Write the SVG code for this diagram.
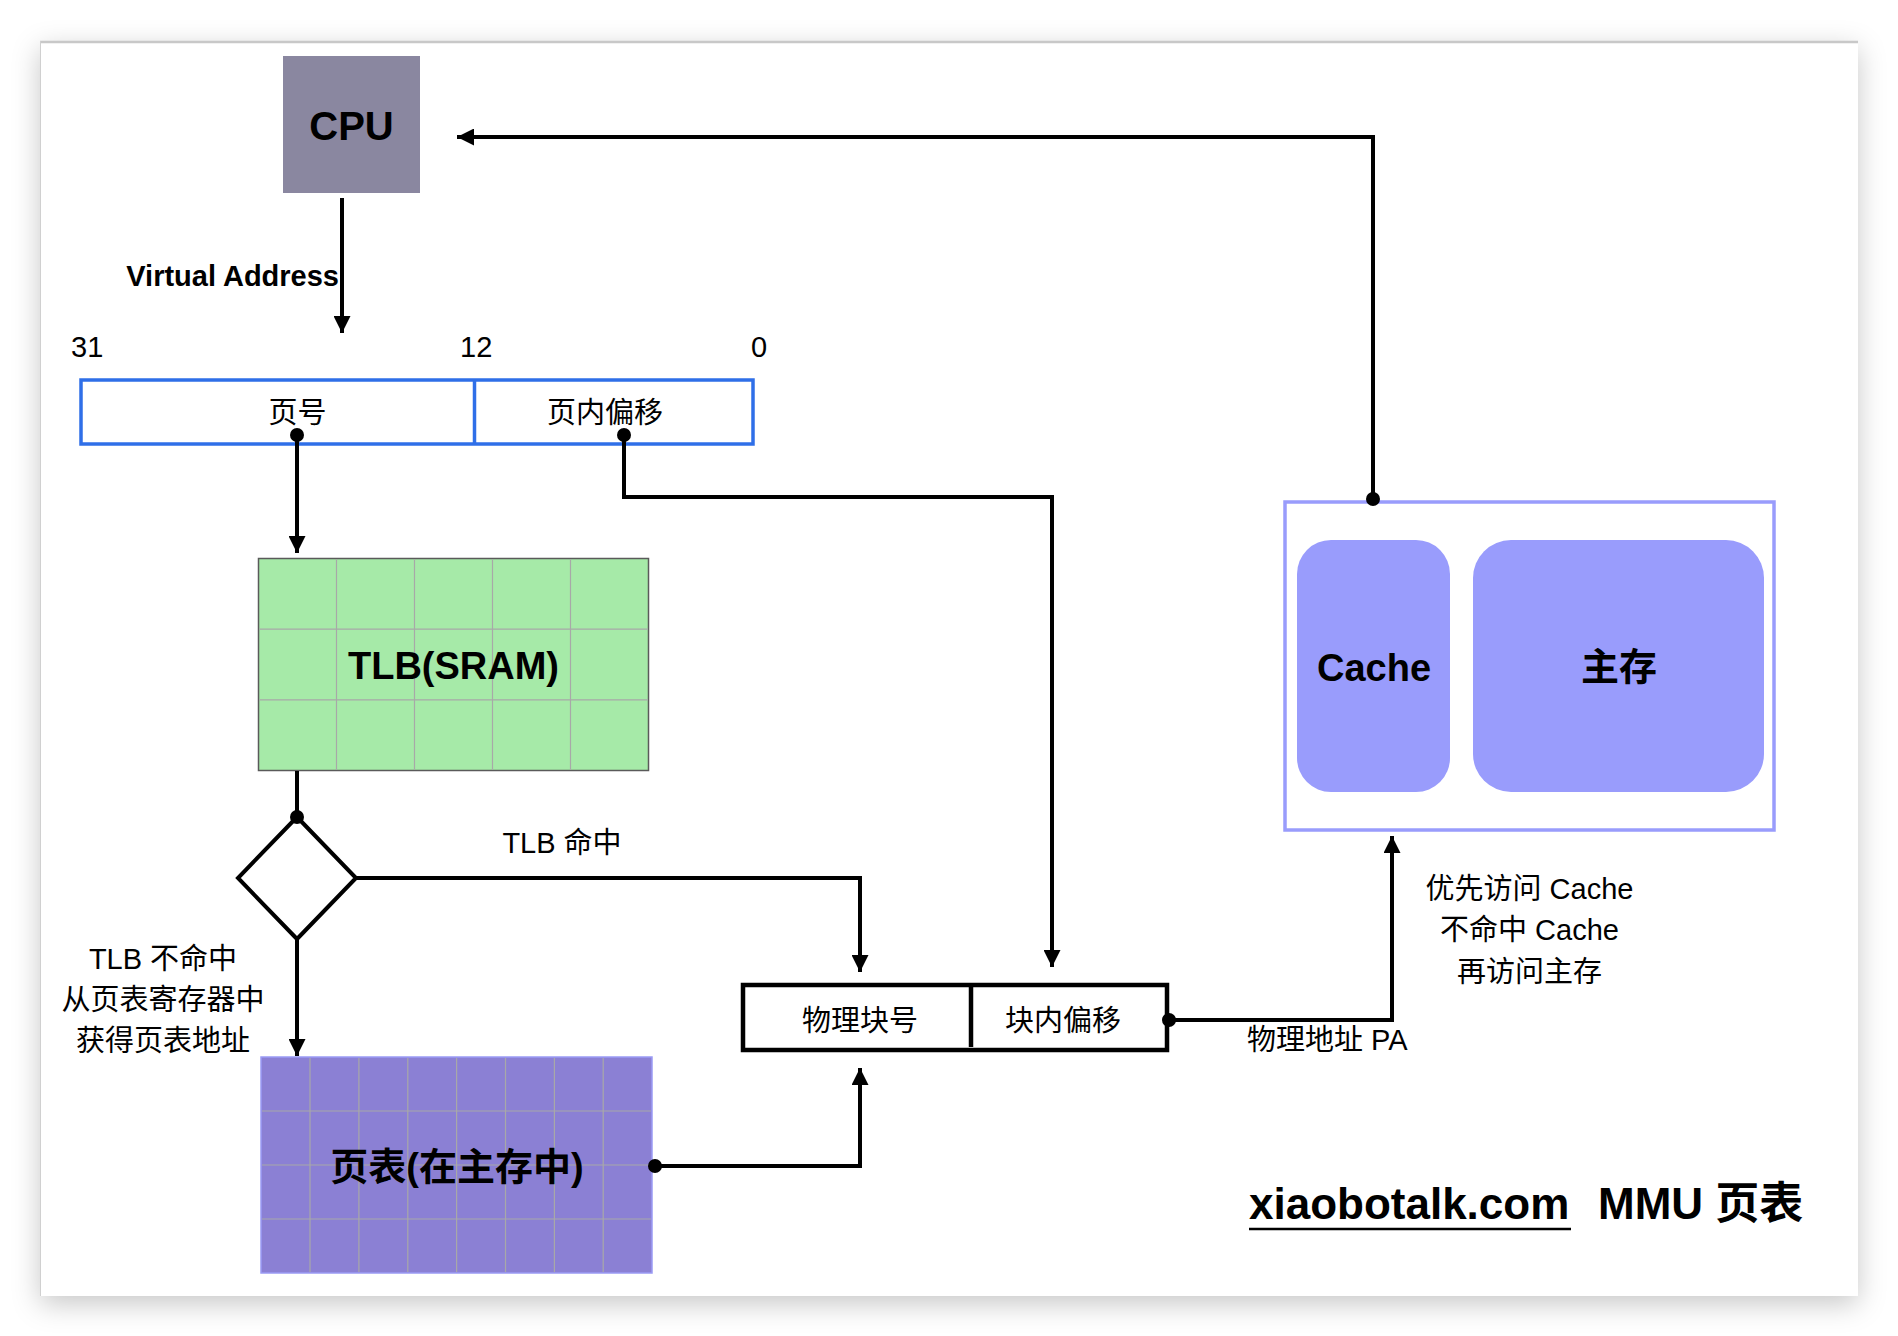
<svg xmlns="http://www.w3.org/2000/svg" width="1898" height="1336" viewBox="0 0 1898 1336">
<defs>
<filter id="sh" x="-5%" y="-5%" width="110%" height="115%">
<feDropShadow dx="0" dy="8" stdDeviation="14" flood-color="#000" flood-opacity="0.22"/>
</filter>
<marker id="ah" viewBox="0 0 17 17" refX="17" refY="8.5" markerWidth="17" markerHeight="17" orient="auto" markerUnits="userSpaceOnUse">
<path d="M0,0 L17,8.5 L0,17 z" fill="#000"/>
</marker>
<style>
.t{font-family:"Liberation Sans","Noto Sans CJK SC",sans-serif;font-size:29px;fill:#000}
.b{font-family:"Liberation Sans","Noto Sans CJK SC",sans-serif;font-weight:bold;fill:#000}
.c{fill:none;stroke:#000;stroke-width:4}
.grid{stroke:#a8a8a8;stroke-width:1.2}
.dot{fill:#000}
</style>
</defs>
<rect width="1898" height="1336" fill="#fff"/>
<rect x="40" y="41" width="1818" height="1255" fill="#fff" filter="url(#sh)"/>
<line x1="40" y1="42" x2="1858" y2="42" stroke="#c8c8c8" stroke-width="2.5"/>
<line x1="40.5" y1="41" x2="40.5" y2="1296" stroke="#d0d0d0" stroke-width="1"/>

<g id="cpu">
<rect x="283" y="56" width="137" height="137" fill="#8a87a0"/>
<text class="b" x="351.5" y="140" font-size="40" text-anchor="middle">CPU</text>
</g>

<g id="virtual-address-bar">
<rect x="81" y="380" width="672" height="64" fill="#fff" stroke="#2f6fe8" stroke-width="3.5"/>
<line x1="474.5" y1="380" x2="474.5" y2="444" stroke="#2f6fe8" stroke-width="3.5"/>
<text class="t" x="297.5" y="423" text-anchor="middle">页号</text>
<text class="t" x="605" y="423" text-anchor="middle">页内偏移</text>
<text class="t" x="71" y="357" font-size="27">31</text>
<text class="t" x="460" y="357" font-size="27">12</text>
<text class="t" x="751" y="357" font-size="27">0</text>
</g>

<g id="tlb">
<rect x="258.5" y="558.5" width="390" height="212" fill="#a6eaa8" stroke="#5a5a5a" stroke-width="1.5"/>
<path class="grid" d="M336.5,559V770 M414.5,559V770 M492.5,559V770 M570.5,559V770 M259,629.2H648 M259,699.9H648"/>
<text class="b" x="453.5" y="679" font-size="38" text-anchor="middle">TLB(SRAM)</text>
</g>

<g id="decision">
<polygon points="297,817 356,878 297,939 238,878" fill="#fff" stroke="#000" stroke-width="4"/>
</g>

<g id="page-table">
<rect x="261" y="1057" width="391" height="216" fill="#8b80d4" stroke="#9b9bf5" stroke-width="1.5"/>
<path class="grid" d="M310,1058V1272 M358.9,1058V1272 M407.8,1058V1272 M456.6,1058V1272 M505.5,1058V1272 M554.4,1058V1272 M603.2,1058V1272 M262,1111H651 M262,1165H651 M262,1219H651"/>
<text class="b" x="457" y="1180" font-size="38" text-anchor="middle">页表(在主存中)</text>
</g>

<g id="physical-address">
<rect x="743" y="985" width="424" height="65" fill="#fff" stroke="#000" stroke-width="4.5"/>
<line x1="971" y1="986" x2="971" y2="1047" stroke="#000" stroke-width="4.5"/>
<text class="t" x="860" y="1031" text-anchor="middle">物理块号</text>
<text class="t" x="1063" y="1031" text-anchor="middle">块内偏移</text>
</g>

<g id="memory">
<rect x="1285" y="502" width="489" height="328" fill="#fff" stroke="#999cfc" stroke-width="3.5"/>
<rect x="1297" y="540" width="153" height="252" rx="34" fill="#999cfc"/>
<rect x="1473" y="540" width="291" height="252" rx="38" fill="#999cfc"/>
<text class="b" x="1374" y="681" font-size="38" text-anchor="middle">Cache</text>
<text class="b" x="1619" y="680" font-size="38" text-anchor="middle">主存</text>
</g>

<g id="connectors">
<path class="c" d="M342,198 V333" marker-end="url(#ah)"/>
<path class="c" d="M297,435 V553" marker-end="url(#ah)"/>
<path class="c" d="M624,435 V497 H1052 V967" marker-end="url(#ah)"/>
<path class="c" d="M297,771 V817"/>
<path class="c" d="M356,878 H860 V972" marker-end="url(#ah)"/>
<path class="c" d="M297,939 V1056" marker-end="url(#ah)"/>
<path class="c" d="M654,1166 H860 V1068" marker-end="url(#ah)"/>
<path class="c" d="M1169,1020 H1392 V836" marker-end="url(#ah)"/>
<path class="c" d="M1373,500 V137 H457" marker-end="url(#ah)"/>
<circle class="dot" cx="297" cy="435" r="7"/>
<circle class="dot" cx="624" cy="435" r="7"/>
<circle class="dot" cx="297" cy="817" r="7"/>
<circle class="dot" cx="655" cy="1166" r="7"/>
<circle class="dot" cx="1169" cy="1020" r="7"/>
<circle class="dot" cx="1373" cy="499" r="7"/>
</g>

<g id="labels">
<text class="b" x="339" y="286" font-size="29" text-anchor="end">Virtual Address</text>
<text class="t" x="562" y="853" text-anchor="middle">TLB 命中</text>
<text class="t" x="163" y="969" text-anchor="middle">TLB 不命中</text>
<text class="t" x="163" y="1010" text-anchor="middle">从页表寄存器中</text>
<text class="t" x="163" y="1051" text-anchor="middle">获得页表地址</text>
<text class="t" x="1247" y="1050">物理地址 PA</text>
<text class="t" x="1529.5" y="899" text-anchor="middle">优先访问 Cache</text>
<text class="t" x="1529.5" y="940" text-anchor="middle">不命中 Cache</text>
<text class="t" x="1529.5" y="982" text-anchor="middle">再访问主存</text>
</g>

<g id="footer">
<text class="b" x="1249" y="1219" font-size="44">xiaobotalk.com</text>
<line x1="1249" y1="1229" x2="1571" y2="1229" stroke="#000" stroke-width="2.5"/>
<text class="b" x="1598" y="1219" font-size="44">MMU 页表</text>
</g>
</svg>
